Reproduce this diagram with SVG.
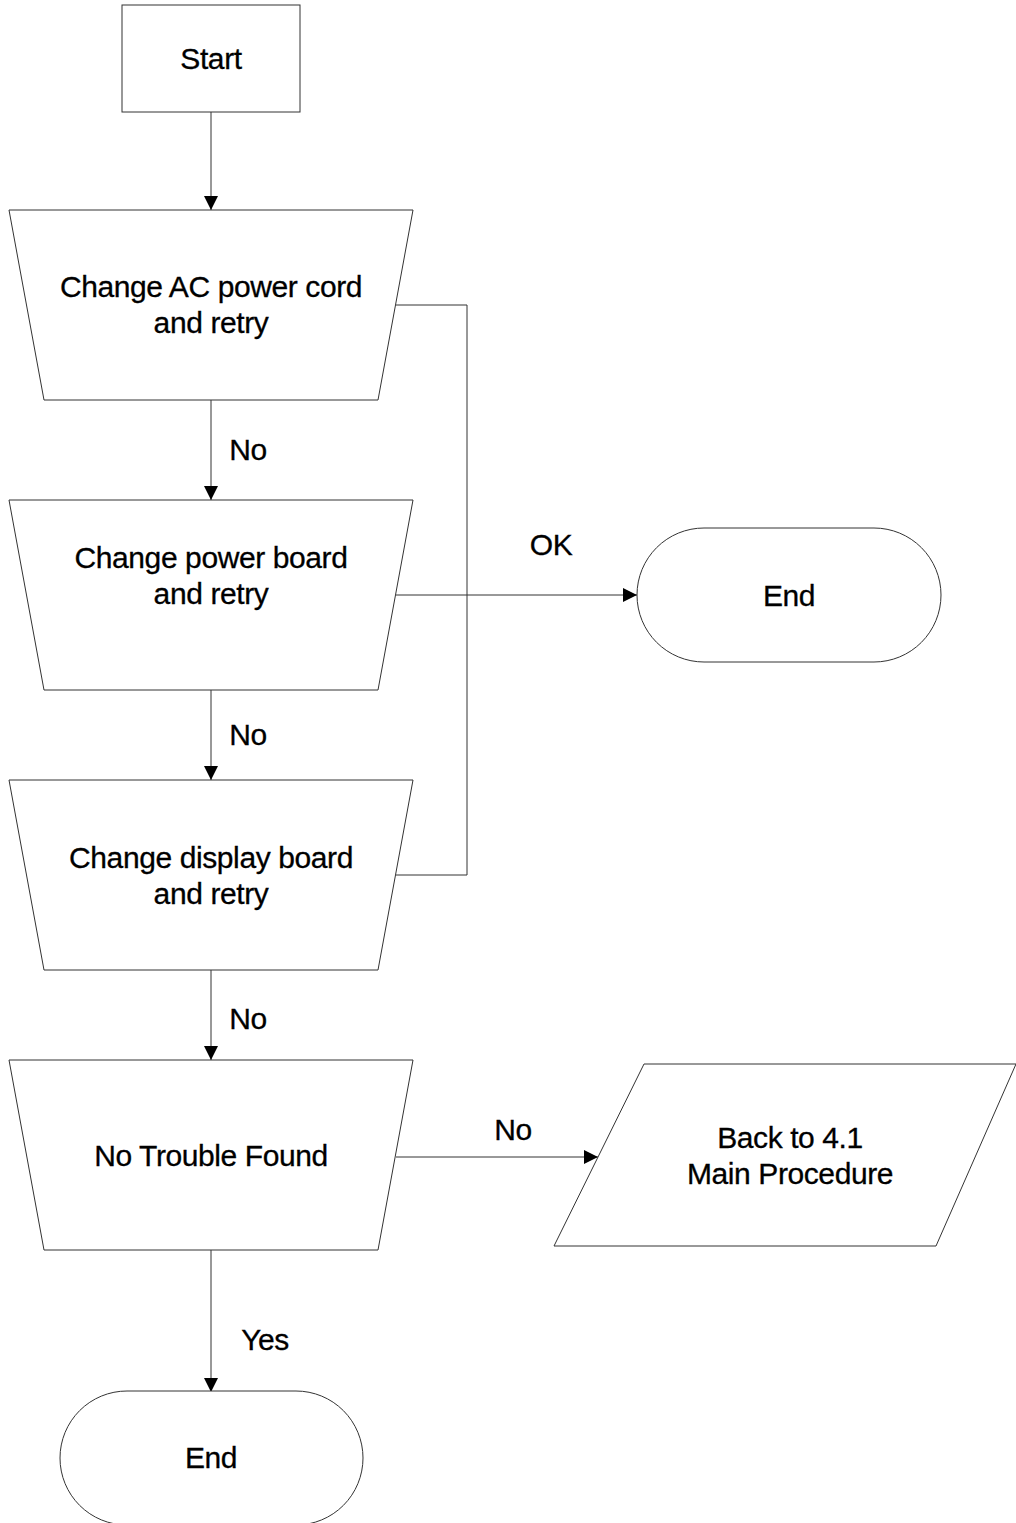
<svg xmlns="http://www.w3.org/2000/svg" width="1016" height="1523" viewBox="0 0 1016 1523">
<style>
.s{fill:#fff;stroke:#333;stroke-width:1}
.c{fill:none;stroke:#333;stroke-width:1}
.t{font-family:"Liberation Sans",Arial,sans-serif;font-size:30px;fill:#000;text-anchor:middle;letter-spacing:-0.4px;stroke:#000;stroke-width:0.3px}
</style>
<defs>
<marker id="a" markerWidth="14" markerHeight="14" refX="14" refY="7" orient="auto" markerUnits="userSpaceOnUse">
<path d="M0,0 L14,7 L0,14 Z" fill="#000"/>
</marker>
</defs>
<rect width="1016" height="1523" fill="#fff"/>
<g id="connectors">
<line class="c" x1="211" y1="112" x2="211" y2="210" marker-end="url(#a)"/>
<line class="c" x1="211" y1="400" x2="211" y2="500" marker-end="url(#a)"/>
<line class="c" x1="211" y1="690" x2="211" y2="780" marker-end="url(#a)"/>
<line class="c" x1="211" y1="970" x2="211" y2="1060" marker-end="url(#a)"/>
<line class="c" x1="211" y1="1250" x2="211" y2="1392" marker-end="url(#a)"/>
<polyline class="c" points="396,305 467,305 467,875 396,875"/>
<line class="c" x1="396" y1="595" x2="637" y2="595" marker-end="url(#a)"/>
<line class="c" x1="396" y1="1157" x2="598" y2="1157" marker-end="url(#a)"/>
<text class="t" x="248" y="460">No</text>
<text class="t" x="248" y="745">No</text>
<text class="t" x="248" y="1029">No</text>
<text class="t" x="551" y="555">OK</text>
<text class="t" x="513" y="1140">No</text>
<text class="t" x="265" y="1350">Yes</text>
</g>
<g id="start">
<rect class="s" x="122" y="5" width="178" height="107"/>
<text class="t" x="211" y="69">Start</text>
</g>
<g id="step1">
<polygon class="s" points="9,210 413,210 378,400 44,400"/>
<text class="t" x="211" y="297">Change AC power cord</text>
<text class="t" x="211" y="333">and retry</text>
</g>
<g id="step2">
<polygon class="s" points="9,500 413,500 378,690 44,690"/>
<text class="t" x="211" y="568">Change power board</text>
<text class="t" x="211" y="604">and retry</text>
</g>
<g id="step3">
<polygon class="s" points="9,780 413,780 378,970 44,970"/>
<text class="t" x="211" y="868">Change display board</text>
<text class="t" x="211" y="904">and retry</text>
</g>
<g id="step4">
<polygon class="s" points="9,1060 413,1060 378,1250 44,1250"/>
<text class="t" x="211" y="1166">No Trouble Found</text>
</g>
<g id="end1">
<rect class="s" x="637" y="528" width="304" height="134" rx="67" ry="67"/>
<text class="t" x="789" y="606">End</text>
</g>
<g id="back">
<polygon class="s" points="644,1064 1016,1064 936,1246 554,1246"/>
<text class="t" x="790" y="1148">Back to 4.1</text>
<text class="t" x="790" y="1184">Main Procedure</text>
</g>
<g id="end2">
<rect class="s" x="60" y="1391" width="303" height="134" rx="67" ry="67"/>
<text class="t" x="211" y="1468">End</text>
</g>
</svg>
